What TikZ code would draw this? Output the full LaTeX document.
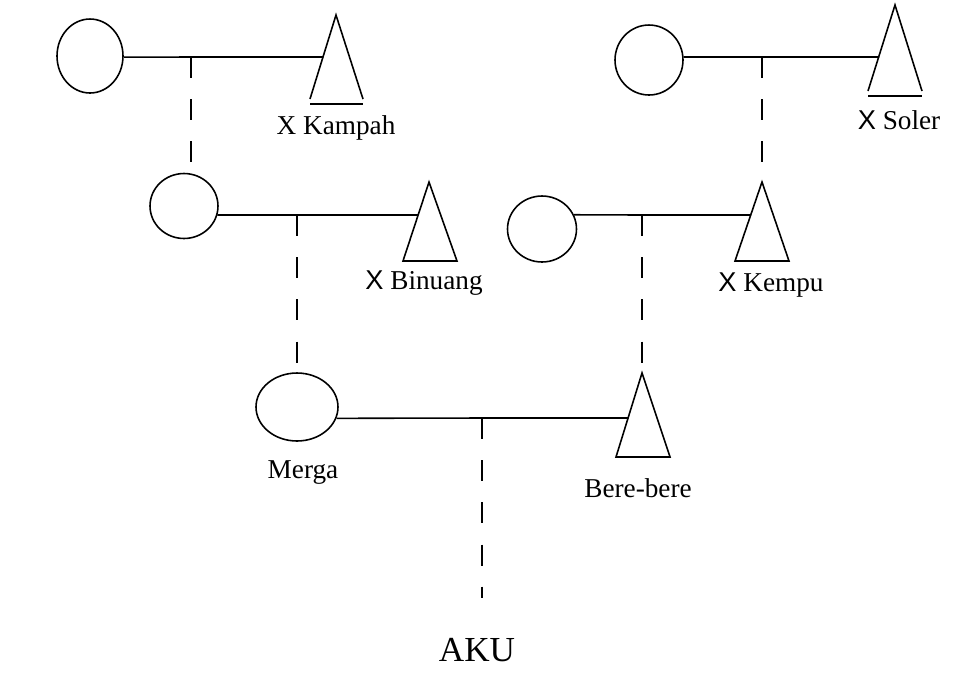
\documentclass[tikz,border=0pt]{standalone}
\usepackage{fontspec}
\setmainfont{Liberation Serif}
\newfontfamily\xfont{Liberation Sans}
\usetikzlibrary{shapes.geometric}

\begin{document}
\begin{tikzpicture}[x=0.02cm, y=-0.02cm,
    wife/.style={draw, ellipse, line width=0.9pt, inner sep=0pt},
    bond/.style={line width=0.9pt},
    descent/.style={line width=0.9pt, dash pattern=on 12pt off 12pt},
    kinname/.style={font=\fontsize{15.5}{18}\selectfont, inner sep=0pt}]
    \useasboundingbox (0,0) rectangle (961,698);

    \coordinate (K1A) at (336, 15);
    \coordinate (K1L) at (310, 99);
    \coordinate (K1R) at (363, 99);
    \coordinate (K1BL) at (310, 104);
    \coordinate (K1BR) at (363, 104);
    \coordinate (K1S) at (323, 57);
    \coordinate (M1) at (191, 57);

    \coordinate (K3A) at (895, 5);
    \coordinate (K3L) at (868, 91);
    \coordinate (K3R) at (922, 91);
    \coordinate (K3BL) at (868, 96);
    \coordinate (K3BR) at (922, 96);
    \coordinate (K3S) at (879, 57);
    \coordinate (M3) at (762, 57);

    \coordinate (K2A) at (429, 182);
    \coordinate (K2L) at (403, 261);
    \coordinate (K2R) at (457, 261);
    \coordinate (K2S) at (418, 215);
    \coordinate (M2) at (297, 215);

    \coordinate (K4A) at (762, 182);
    \coordinate (K4L) at (735, 261);
    \coordinate (K4R) at (789, 261);
    \coordinate (K4S) at (751, 215);
    \coordinate (M4) at (642, 215);

    \coordinate (K5A) at (642, 373);
    \coordinate (K5L) at (616, 457);
    \coordinate (K5R) at (670, 457);
    \coordinate (K5S) at (628, 418);
    \coordinate (M5) at (482, 418);
    \coordinate (M5end) at (482, 598);

    \node [wife, minimum width=1.32cm, minimum height=1.48cm] (C1) at (90, 56) {};
    \node [wife, minimum width=1.36cm, minimum height=1.40cm] (C3) at (649, 60) {};
    \node [wife, minimum width=1.36cm, minimum height=1.30cm] (C2) at (184, 206) {};
    \node [wife, minimum width=1.38cm, minimum height=1.32cm] (C4) at (542, 229) {};
    \node [wife, minimum width=1.64cm, minimum height=1.36cm] (C5) at (297, 407) {};

    % husbands
    \draw [bond] (K1L) -- (K1A) -- (K1R);
    \draw [bond] (K1BL) -- (K1BR);
    \draw [bond] (K3L) -- (K3A) -- (K3R);
    \draw [bond] (K3BL) -- (K3BR);
    \draw [bond] (K2A) -- (K2L) -- (K2R) -- cycle;
    \draw [bond] (K4A) -- (K4L) -- (K4R) -- cycle;
    \draw [bond] (K5A) -- (K5L) -- (K5R) -- cycle;

    % marriages
    \draw [bond] (C1.-2) -- (M1) -- (K1S);
    \draw [bond] (C3.5) -- (M3) -- (K3S);
    \draw [bond] (C2.-15) -- (M2) -- (K2S);
    \draw [bond] (C4.24) -- (M4) -- (K4S);
    \draw [bond] (C5.-16) -- (M5) -- (K5S);

    % descent
    \draw [descent] (M1) to (M1 |- C2.north);
    \draw [descent] (M3) to (K4A);
    \draw [descent] (M2) to (C5.north);
    \draw [descent] (M4) to (K5A);
    \draw [descent] (M5) to (M5end);

    \node [kinname] (kampah) at (336, 128) {X Kampah};
    \node [kinname] (soler) at (899, 120) {{\xfont X} Soler};
    \node [kinname] (binuang) at (424, 283) {{\xfont X} Binuang};
    \node [kinname] (kempu) at (771, 285) {{\xfont X} Kempu};
    \node [kinname] (merga) at (303, 473) {Merga};
    \node [kinname] (bere) at (638, 488) {Bere-bere};
    \node [kinname, font=\fontsize{20}{22}\selectfont] (aku) at (477, 650) {AKU};
\end{tikzpicture}
\end{document}
